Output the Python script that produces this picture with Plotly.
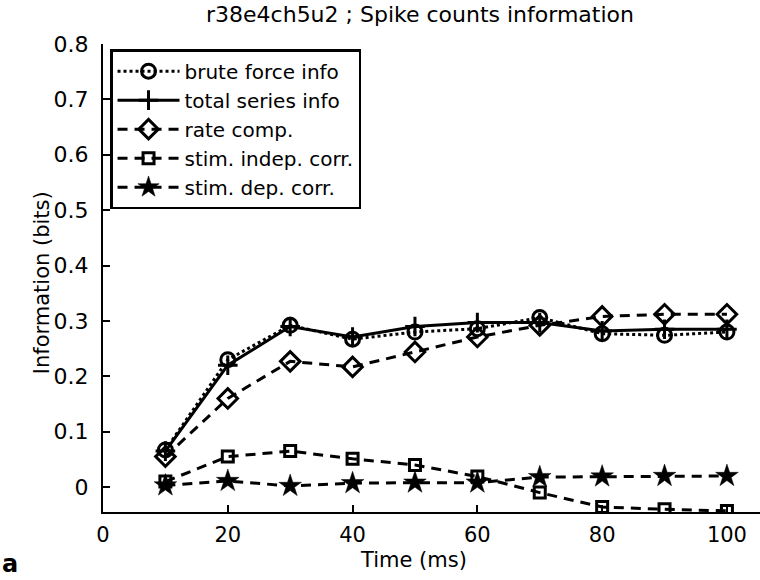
import plotly.graph_objects as go

time_ms = [10, 20, 30, 40, 50, 60, 70, 80, 90, 100]
brute_force = [0.067, 0.230, 0.292, 0.267, 0.280, 0.286, 0.306, 0.277, 0.274, 0.280]
total_series = [0.065, 0.220, 0.290, 0.271, 0.290, 0.297, 0.297, 0.282, 0.285, 0.285]
rate_comp = [0.055, 0.160, 0.227, 0.217, 0.244, 0.271, 0.292, 0.308, 0.312, 0.312]
stim_indep = [0.010, 0.055, 0.065, 0.051, 0.040, 0.019, -0.010, -0.036, -0.040, -0.043]
stim_dep = [0.003, 0.011, 0.002, 0.007, 0.008, 0.008, 0.018, 0.019, 0.020, 0.020]

names = ["brute force info", "total series info", "rate comp.", "stim. indep. corr.", "stim. dep. corr."]
x_ticks = [0, 20, 40, 60, 80, 100]
y_ticks = [0, 0.1, 0.2, 0.3, 0.4, 0.5, 0.6, 0.7, 0.8]
y_tick_text = ["0", "0.1", "0.2", "0.3", "0.4", "0.5", "0.6", "0.7", "0.8"]

FONT = "DejaVu Sans, Liberation Sans, Arial, sans-serif"

fig = go.Figure()
series = [
    (brute_force, "dot", "circle-open", 14, 3),
    (total_series, "solid", "cross-thin-open", 14, 3),
    (rate_comp, "10px,7px", "diamond-open", 15, 3),
    (stim_indep, "10px,7px", "square-open", 11, 3),
    (stim_dep, "10px,7px", "star", 17, 0.5),
]
for (vals, dash, sym, size, mlw), name in zip(series, names):
    fig.add_trace(go.Scatter(
        x=time_ms, y=vals, name=name, mode="lines+markers",
        line=dict(color="black", width=3, dash=dash),
        marker=dict(symbol=sym, size=size, color="black",
                    line=dict(color="black", width=mlw)),
    ))

fig.update_layout(
    width=760, height=580,
    margin=dict(l=103, r=0, t=44, b=68),
    paper_bgcolor="white", plot_bgcolor="white",
    font=dict(family=FONT, size=21, color="black"),
    title=dict(text="r38e4ch5u2 ; Spike counts information", x=0.4825, xref="paper",
               xanchor="center", y=0.975, yanchor="middle", font=dict(size=22)),
    showlegend=True,
    legend=dict(x=0.0107, y=0.989, xanchor="left", yanchor="top",
                bgcolor="white", bordercolor="black", borderwidth=2.5,
                font=dict(size=20), tracegroupgap=0, itemwidth=62),
    xaxis=dict(range=[0, 105.3], tickvals=x_ticks, ticks="inside", ticklen=7,
               tickwidth=1.5, tickcolor="black", showline=True, linecolor="black",
               linewidth=2, showgrid=False, zeroline=False, mirror=False,
               ticklabelstandoff=3, tickfont=dict(size=21)),
    yaxis=dict(range=[-0.045, 0.8], tickvals=y_ticks, ticktext=y_tick_text,
               ticks="inside", ticklen=7, tickwidth=1.5, tickcolor="black",
               showline=True, linecolor="black", linewidth=2, showgrid=False,
               zeroline=False, ticklabelstandoff=8, tickfont=dict(size=22)),
)
fig.add_annotation(text="Time (ms)", xref="paper", yref="paper", x=0.473, y=-0.1026,
                   xanchor="center", yanchor="middle", showarrow=False, font=dict(size=21))
fig.add_annotation(text="Information (bits)", xref="paper", yref="paper", x=-0.0935, y=0.49,
                   xanchor="center", yanchor="middle", textangle=-90, showarrow=False,
                   font=dict(size=21))
fig.add_annotation(text="<b>a</b>", xref="paper", yref="paper", x=-0.142, y=-0.112,
                   xanchor="center", yanchor="middle", showarrow=False, font=dict(size=24))

fig.write_html("out.html")
